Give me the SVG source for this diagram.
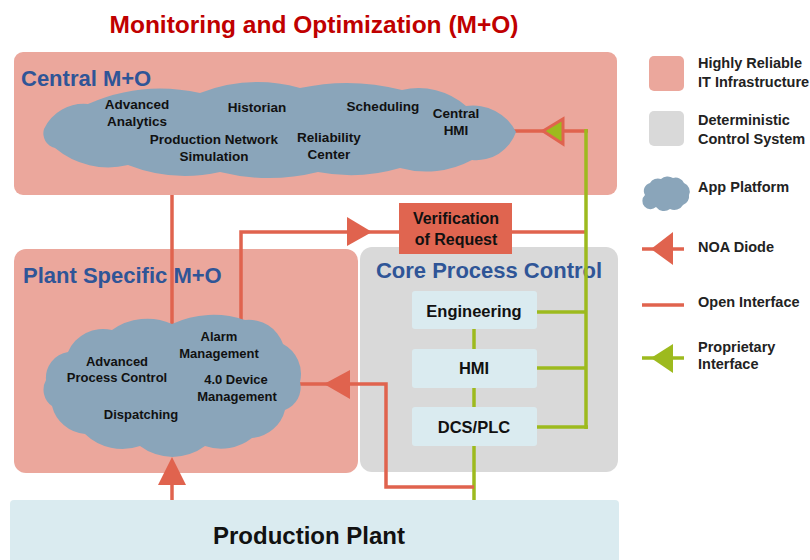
<svg xmlns="http://www.w3.org/2000/svg" width="810" height="560" viewBox="0 0 810 560">
  <style>
    text { font-family: "Liberation Sans", Arial, sans-serif; font-weight: bold; }
    .title { font-size: 24.5px; fill: #C00000; }
    .zone { fill: #EBA79C; }
    .det { fill: #D9D9D9; }
    .plant { fill: #DAEBF0; }
    .zonelabel { font-size: 22px; fill: #2F5597; }
    .cloud { fill: #8AA5BA; }
    .app { font-size: 13.5px; fill: #111; text-anchor: middle; }
    .app2 { font-size: 13px; fill: #111; text-anchor: middle; }
    .unit { font-size: 16.5px; fill: #111; text-anchor: middle; }
    .legend { font-size: 14.5px; fill: #222; }
    .open { stroke: #E0634E; stroke-width: 3.5; fill: none; }
    .prop { stroke: #9DBA1E; stroke-width: 3.5; fill: none; }
    .diode { fill: #E0634E; }
    .propArrow { fill: #9DBA1E; }
  </style>

  <!-- page title -->
  <text class="title" x="314" y="33" text-anchor="middle">Monitoring and Optimization (M+O)</text>

  <!-- zone backgrounds -->
  <g id="central-mo">
    <rect class="zone" x="14" y="52" width="603" height="143" rx="9"/>
    <text class="zonelabel" x="21" y="86">Central M+O</text>
  </g>
  <g id="plant-specific-mo">
    <rect class="zone" x="14" y="249" width="344" height="224" rx="12"/>
    <text class="zonelabel" x="23" y="283">Plant Specific M+O</text>
  </g>
  <g id="core-process-control">
    <rect class="det" x="360" y="247" width="258" height="225" rx="12"/>
    <text class="zonelabel" x="489" y="278" text-anchor="middle">Core Process Control</text>
  </g>
  <g id="production-plant">
    <rect class="plant" x="10" y="500" width="609" height="70" rx="4"/>
    <text x="309" y="544" text-anchor="middle" font-size="24" fill="#111">Production Plant</text>
  </g>

  <!-- connectors -->
  <g id="connectors">
    <!-- central to plant-specific open interface -->
    <line class="open" x1="172" y1="195" x2="172" y2="330"/>
    <!-- plant-specific request path through verification -->
    <polyline class="open" points="241,322 241,232 399,232"/>
    <polygon class="diode" points="347,217 372,232 347,246"/>
    <line class="open" x1="512" y1="232" x2="586" y2="232"/>
    <!-- central HMI diode link -->
    <line class="open" x1="510" y1="131" x2="588" y2="131"/>
    <polygon points="543,131 563,119 563,144" fill="#9DBA1E" stroke="#E0634E" stroke-width="3" stroke-linejoin="miter"/>
    <!-- proprietary bus -->
    <line class="prop" x1="586" y1="129" x2="586" y2="429"/>
    <line class="prop" x1="537" y1="312" x2="586" y2="312"/>
    <line class="prop" x1="537" y1="368" x2="586" y2="368"/>
    <line class="prop" x1="537" y1="427" x2="588" y2="427"/>
    <line class="prop" x1="474" y1="329" x2="474" y2="349"/>
    <line class="prop" x1="474" y1="388" x2="474" y2="407"/>
    <line class="prop" x1="474" y1="446" x2="474" y2="500"/>
    <!-- device data back to plant-specific cloud -->
    <polyline class="open" points="296,384 386,384 386,487 474,487"/>
    <polygon class="diode" points="324,384 350,370 350,399"/>
    <!-- production plant up to plant-specific cloud -->
    <line class="open" x1="172" y1="500" x2="172" y2="470"/>
    <polygon class="diode" points="172,457 186,485 158,485"/>
  </g>

  <!-- central app platform -->
  <g id="central-cloud">
    <path class="cloud" d="M44,129 A44,44 0 0 1 88,104 A180,180 0 0 1 200,93 A160,160 0 0 1 300,88 A220,220 0 0 1 402,90 A72,72 0 0 1 466,106 A48,48 0 0 1 516,132 A42,42 0 0 1 472,160 A97,97 0 0 1 400,168 A172,172 0 0 1 318,172 A203,203 0 0 1 220,172 A156,156 0 0 1 128,165 A83,83 0 0 1 55,148 A15,15 0 0 1 44,129 Z"/>
    <text class="app" x="137" y="109">Advanced</text>
    <text class="app" x="137" y="126">Analytics</text>
    <text class="app" x="257" y="112">Historian</text>
    <text class="app" x="383" y="111">Scheduling</text>
    <text class="app" x="456" y="118">Central</text>
    <text class="app" x="456" y="135">HMI</text>
    <text class="app" x="214" y="144">Production Network</text>
    <text class="app" x="214" y="161">Simulation</text>
    <text class="app" x="329" y="142">Reliability</text>
    <text class="app" x="329" y="159">Center</text>
  </g>

  <!-- plant-specific app platform -->
  <g id="plant-cloud">
    <path class="cloud" d="M46,380 A26,26 0 0 1 68,352 A38,38 0 0 1 112,330 A61,61 0 0 1 172,324 A99,99 0 0 1 245,320 A36,36 0 0 1 283,344 A34,34 0 0 1 300,382 A24,24 0 0 1 285,410 A37,37 0 0 1 252,438 A50,50 0 0 1 205,446 A54,54 0 0 1 140,446 A54,54 0 0 1 85,434 A37,37 0 0 1 52,406 A20,20 0 0 1 46,380 Z"/>
    <text class="app2" x="117" y="366">Advanced</text>
    <text class="app2" x="117" y="382">Process Control</text>
    <text class="app2" x="219" y="341">Alarm</text>
    <text class="app2" x="219" y="358">Management</text>
    <text class="app2" x="236" y="384">4.0 Device</text>
    <text class="app2" x="237" y="401">Management</text>
    <text class="app2" x="141" y="419">Dispatching</text>
  </g>

  <!-- verification step -->
  <g id="verification">
    <rect x="399" y="203" width="113" height="51" fill="#E06550"/>
    <text x="456" y="224" text-anchor="middle" font-size="16" fill="#111">Verification</text>
    <text x="456" y="245" text-anchor="middle" font-size="16" fill="#111">of Request</text>
  </g>

  <!-- control layers -->
  <g id="engineering">
    <rect class="plant" x="412" y="291" width="125" height="38" rx="3"/>
    <text class="unit" x="474" y="317">Engineering</text>
  </g>
  <g id="hmi">
    <rect class="plant" x="412" y="349" width="125" height="39" rx="3"/>
    <text class="unit" x="474" y="374">HMI</text>
  </g>
  <g id="dcs-plc">
    <rect class="plant" x="412" y="407" width="125" height="39" rx="3"/>
    <text class="unit" x="474" y="433">DCS/PLC</text>
  </g>

  <!-- legend -->
  <g id="legend">
    <rect class="zone" x="649" y="56" width="35" height="35" rx="5"/>
    <text class="legend" x="698" y="68">Highly Reliable</text>
    <text class="legend" x="698" y="87">IT Infrastructure</text>

    <rect class="det" x="649" y="111" width="35" height="35" rx="5"/>
    <text class="legend" x="698" y="125">Deterministic</text>
    <text class="legend" x="698" y="144">Control System</text>

    <path class="cloud" d="M645,195 A8,8 0 0 1 650,183 A9,9 0 0 1 661,179 A10,10 0 0 1 673,178 A9,9 0 0 1 684,183 A9,9 0 0 1 689,195 A9,9 0 0 1 683,205 A10,10 0 0 1 670,209 A10,10 0 0 1 656,207 A8,8 0 0 1 645,195 Z"/>
    <text class="legend" x="698" y="192">App Platform</text>

    <line class="open" x1="642" y1="249" x2="684" y2="249"/>
    <polygon class="diode" points="651,249 673,232 673,265"/>
    <text class="legend" x="698" y="252">NOA Diode</text>

    <line class="open" x1="642" y1="305" x2="684" y2="305"/>
    <text class="legend" x="698" y="307">Open Interface</text>

    <line class="prop" x1="642" y1="358" x2="684" y2="358"/>
    <polygon class="propArrow" points="651,358 673,344 673,373"/>
    <text class="legend" x="698" y="352">Proprietary</text>
    <text class="legend" x="698" y="369">Interface</text>
  </g>
</svg>
